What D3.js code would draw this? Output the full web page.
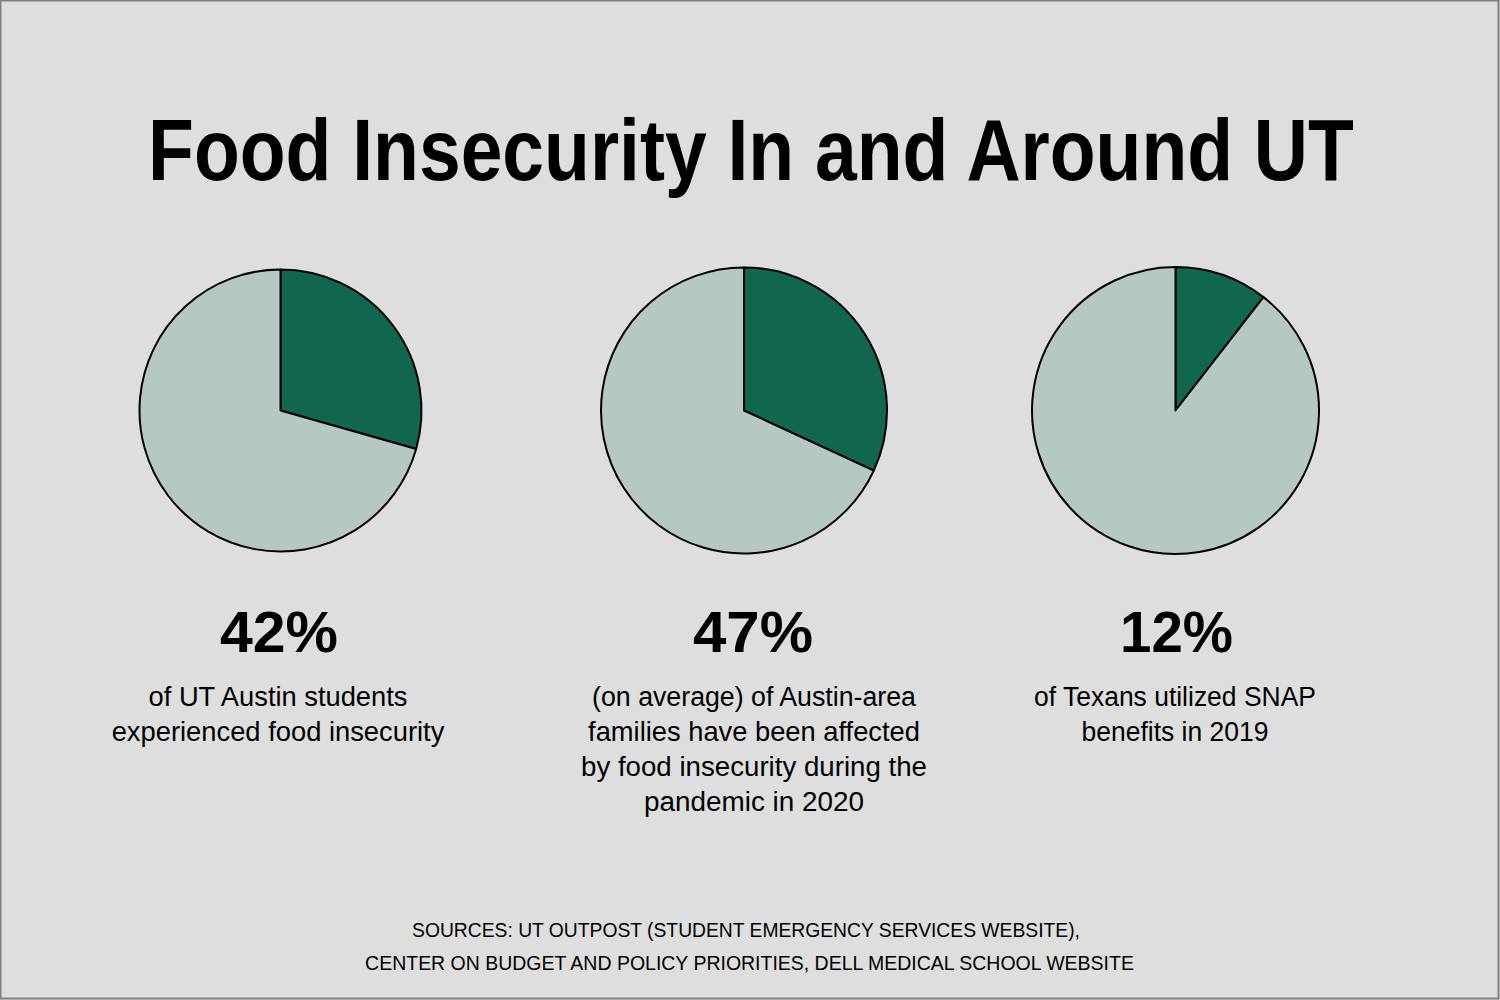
<!DOCTYPE html>
<html>
<head>
<meta charset="utf-8">
<script src="https://cdn.jsdelivr.net/npm/d3@7"></script>
<style>
  html, body { margin: 0; padding: 0; background: #dedede; }
  svg { display: block; }
</style>
</head>
<body>
<script>
// ---- data ----
const title = "Food Insecurity In and Around UT";
const statLabels = ["42%", "47%", "12%"];
// share of each pie drawn as the dark slice (percent)
const slicePercents = [29.4, 31.9, 10.5];
const descriptions = [
  ["of UT Austin students", "experienced food insecurity"],
  ["(on average) of Austin-area", "families have been affected", "by food insecurity during the", "pandemic in 2020"],
  ["of Texans utilized SNAP", "benefits in 2019"]
];
const sources = [
  "SOURCES: UT OUTPOST (STUDENT EMERGENCY SERVICES WEBSITE),",
  "CENTER ON BUDGET AND POLICY PRIORITIES, DELL MEDICAL SCHOOL WEBSITE"
];

// ---- layout ----
const W = 1500, H = 1000;
const pieCx = [280.5, 744, 1175.5];
const pieCy = 410.5;
const pieR = [141, 143, 143.5];
const descX = [278, 754, 1175];
const descWidths = [
  [259, 333],
  [324, 332, 346, 220],
  [282, 187]
];
const statX = [279, 753, 1176.5];
const statWidths = [118, 120, 113];
const srcX = [746, 749.5];
const srcWidths = [668, 769];
const colors = { dark: "#116650", light: "#b5c8c3", bg: "#dedede", border: "#808080" };
const font = "'Liberation Sans', Arial, Helvetica, sans-serif";

const svg = d3.select("body").append("svg").attr("width", W).attr("height", H);

svg.append("rect").attr("x", 0.5).attr("y", 0.5).attr("width", W - 2).attr("height", H - 2)
  .attr("fill", colors.bg).attr("stroke", colors.border).attr("stroke-width", 2);

// draw centered text, then squeeze it horizontally to the target width
function fittedText(str, cx, y, w, size, weight) {
  const t = svg.append("text").attr("x", 0).attr("y", 0).attr("text-anchor", "middle")
    .style("font-family", font).style("font-weight", weight).style("font-size", size + "px")
    .attr("fill", "#000").text(str);
  const len = t.node().getComputedTextLength();
  const sx = len > 0 ? w / len : 1;
  t.attr("transform", `translate(${cx},${y}) scale(${sx},1)`);
  return t;
}

// title
fittedText(title, 751, 180, 1206, 87, "bold");

const pie = d3.pie().sort(null).value(d => d);
const arc = d3.arc().innerRadius(0);

slicePercents.forEach((p, i) => {
  const g = svg.append("g").attr("transform", `translate(${pieCx[i]},${pieCy})`);
  const arcs = pie([p, 100 - p]);
  g.selectAll("path").data(arcs).join("path")
    .attr("d", d => arc.outerRadius(pieR[i])(d))
    .attr("fill", (d, j) => j === 0 ? colors.dark : colors.light)
    .attr("stroke", "#000").attr("stroke-width", 2).attr("stroke-linejoin", "round");

  fittedText(statLabels[i], statX[i], 652, statWidths[i], 57, "bold");

  descriptions[i].forEach((line, k) => {
    fittedText(line, descX[i], 706 + k * 35, descWidths[i][k], 28, "normal");
  });
});

sources.forEach((s, k) => {
  fittedText(s, srcX[k], 937 + k * 33, srcWidths[k], 21, "normal");
});
</script>
</body>
</html>
